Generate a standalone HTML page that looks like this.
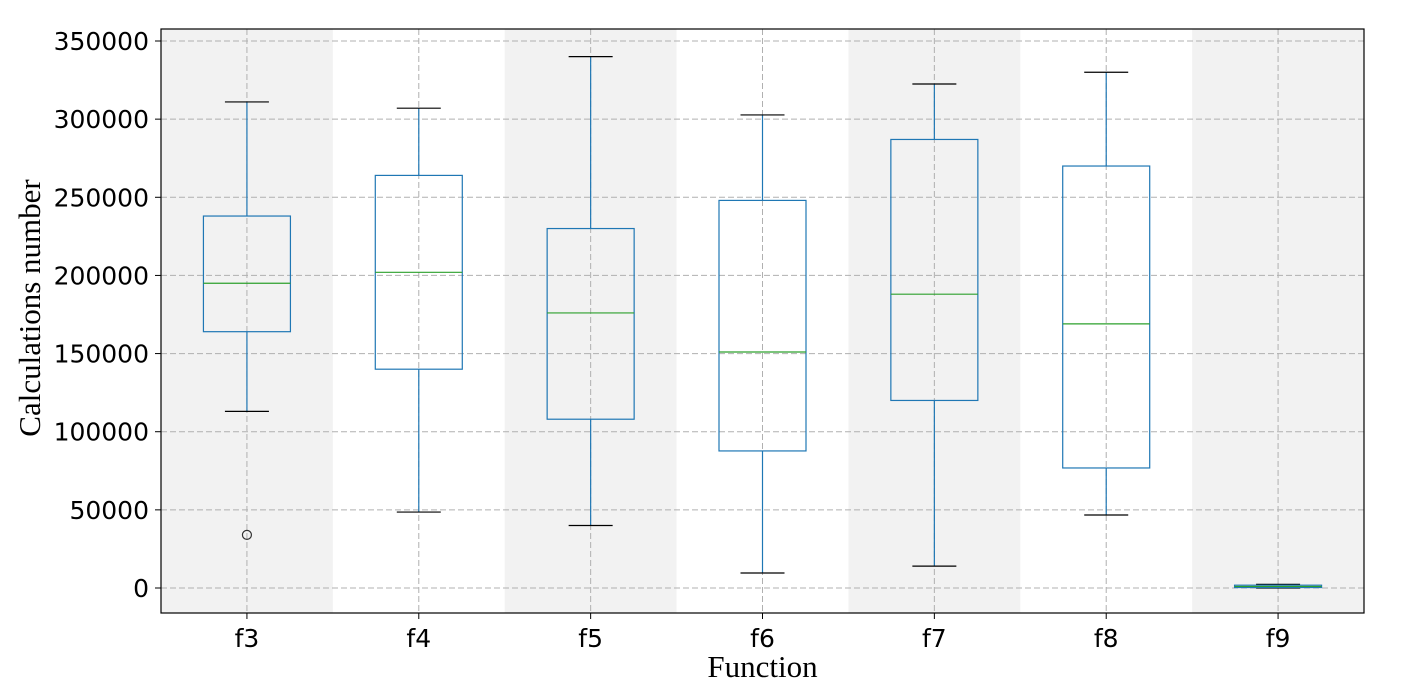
<!DOCTYPE html>
<html><head><meta charset="utf-8"><style>
body{margin:0;background:#fff;}
svg{display:block;}
.tick{font-family:"DejaVu Sans","Liberation Sans",sans-serif;font-size:25px;fill:#000;}
.lab{font-family:"Liberation Serif",serif;font-size:31px;fill:#000;}
</style></head><body>
<svg id="chart" width="1402" height="685" xmlns="http://www.w3.org/2000/svg"></svg>
<script>
const categories=["f3","f4","f5","f6","f7","f8","f9"];
const whiskerLow=[113000,48600,40000,9600,14000,46700,0];
const q1=[164000,140000,108000,87700,120000,76800,300];
const medians=[195000,202000,176000,151000,188000,169000,1000];
const q3=[238000,264000,230000,248000,287000,270000,1800];
const whiskerHigh=[311000,307000,340000,302700,322500,330000,2300];
const outliers=[[34000],[],[],[],[],[],[]];
const yTicks=[0,50000,100000,150000,200000,250000,300000,350000];

const L=161,R=1364,T=29,B=613;
const ns="http://www.w3.org/2000/svg";
const svg=document.getElementById('chart');
const y=v=>588-v*(547/350000);
const band=(R-L)/categories.length;
const x=i=>L+band*(i+0.5);
function mk(tag,attrs,parent){const e=document.createElementNS(ns,tag);for(const k in attrs)e.setAttribute(k,attrs[k]);(parent||svg).appendChild(e);return e;}

categories.forEach((c,i)=>{if(i%2===0){
const r=mk('rect',{x:L+band*i,y:T,width:band,height:B-T,fill:'#f2f2f2'});

}});
yTicks.forEach(t=>{const g=mk('line',{x1:L,x2:R,y1:y(t),y2:y(t),stroke:'#b0b0b0','stroke-dasharray':'6,3','stroke-width':1});


const tl=mk('line',{x1:L-6,x2:L,y1:y(t),y2:y(t),stroke:'#000'});


const tx=mk('text',{x:L-12,y:y(t)+9,'text-anchor':'end',class:'tick'});tx.textContent=t;

});
categories.forEach((c,i)=>{const g=mk('line',{x1:x(i),x2:x(i),y1:T,y2:B,stroke:'#b0b0b0','stroke-dasharray':'6,3'});


const tl=mk('line',{x1:x(i),x2:x(i),y1:B,y2:B+6,stroke:'#000'});


const tx=mk('text',{x:x(i),y:B+34,'text-anchor':'middle',class:'tick'});tx.textContent=c;

});
const bw=87,cw=44;
categories.forEach((c,i)=>{
const g=mk('g',{});


const cx=x(i),blue='#1f77b4';
mk('line',{x1:cx,x2:cx,y1:y(whiskerHigh[i]),y2:y(q3[i]),stroke:blue,'stroke-width':1.2},g);
mk('line',{x1:cx,x2:cx,y1:y(q1[i]),y2:y(whiskerLow[i]),stroke:blue,'stroke-width':1.2},g);
mk('line',{x1:cx-cw/2,x2:cx+cw/2,y1:y(whiskerHigh[i]),y2:y(whiskerHigh[i]),stroke:'#000','stroke-width':1.2},g);
mk('line',{x1:cx-cw/2,x2:cx+cw/2,y1:y(whiskerLow[i]),y2:y(whiskerLow[i]),stroke:'#000','stroke-width':1.2},g);
mk('rect',{x:cx-bw/2,y:y(q3[i]),width:bw,height:Math.max(y(q1[i])-y(q3[i]),1),fill:'none',stroke:blue,'stroke-width':1.2},g);
mk('line',{x1:cx-bw/2,x2:cx+bw/2,y1:y(medians[i]),y2:y(medians[i]),stroke:'#2ca02c','stroke-width':1.2},g);
outliers[i].forEach(o=>mk('circle',{cx:cx,cy:y(o),r:4.5,fill:'none',stroke:'#333','stroke-width':1.2},g));
});
const fr=mk('rect',{x:L,y:T,width:R-L,height:B-T,fill:'none',stroke:'#000','stroke-width':1.2});


const xl=mk('text',{x:(L+R)/2,y:677,'text-anchor':'middle',class:'lab'});xl.textContent='Function';


const yl=mk('text',{x:0,y:0,'text-anchor':'middle',class:'lab',transform:'translate(40,308) rotate(-90)'});yl.textContent='Calculations number';


</script>
</body></html>
